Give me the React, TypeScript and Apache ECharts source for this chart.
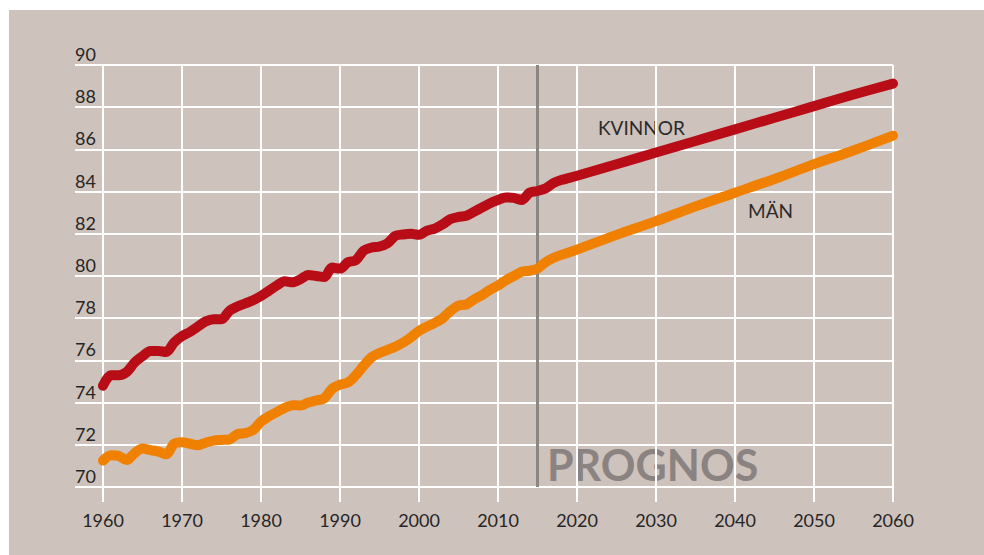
import React, { useEffect, useRef } from "react";
import * as echarts from "echarts";

const years = [
  1960, 1961, 1962, 1963, 1964, 1965, 1966, 1967, 1968, 1969,
  1970, 1971, 1972, 1973, 1974, 1975, 1976, 1977, 1978, 1979,
  1980, 1981, 1982, 1983, 1984, 1985, 1986, 1987, 1988, 1989,
  1990, 1991, 1992, 1993, 1994, 1995, 1996, 1997, 1998, 1999,
  2000, 2001, 2002, 2003, 2004, 2005, 2006, 2007, 2008, 2009,
  2010, 2011, 2012, 2013, 2014, 2015, 2016, 2017, 2018,
  2020, 2025, 2030, 2035, 2040, 2045, 2050, 2055, 2060,
];

const kvinnor = [
  74.8, 75.3, 75.3, 75.45, 75.9, 76.2, 76.45, 76.45, 76.4, 76.85,
  77.15, 77.35, 77.6, 77.85, 77.95, 77.95, 78.35, 78.55, 78.7, 78.85,
  79.05, 79.3, 79.55, 79.75, 79.7, 79.85, 80.05, 80.0, 79.95, 80.4,
  80.35, 80.65, 80.75, 81.2, 81.35, 81.4, 81.55, 81.9, 81.97, 82.0,
  81.95, 82.15, 82.25, 82.45, 82.7, 82.8, 82.85, 83.05, 83.25, 83.45,
  83.6, 83.72, 83.7, 83.6, 83.95, 84.03, 84.15, 84.4, 84.55,
  84.75, 85.3, 85.85, 86.4, 86.95, 87.5, 88.05, 88.6, 89.12,
];

const man = [
  71.25, 71.5, 71.47, 71.28, 71.6, 71.82, 71.75, 71.68, 71.55, 72.05,
  72.12, 72.05, 71.98, 72.1, 72.2, 72.23, 72.25, 72.5, 72.55, 72.7,
  73.1, 73.35, 73.55, 73.75, 73.88, 73.86, 74.0, 74.1, 74.2, 74.65,
  74.85, 74.95, 75.3, 75.75, 76.15, 76.35, 76.5, 76.65, 76.85, 77.1,
  77.4, 77.6, 77.78, 78.0, 78.35, 78.6, 78.65, 78.9, 79.1, 79.35,
  79.55, 79.8, 80.0, 80.2, 80.25, 80.35, 80.65, 80.85, 81.0,
  81.25, 81.95, 82.6, 83.3, 83.95, 84.6, 85.3, 85.95, 86.65,
];

const prognosYear = 2015;
const yTicks = { min: 70, max: 90, interval: 2 };
const xTicks = { min: 1960, max: 2060, interval: 10 };

const FONT = "Lato, 'Open Sans', sans-serif";

export default function App() {
  const ref = useRef<HTMLDivElement>(null);

  useEffect(() => {
    if (!ref.current) return;
    const chart = echarts.init(ref.current, undefined, { renderer: "svg" });
    const pairs = (vals: number[]) => years.map((y, i) => [y, vals[i]]);

    chart.setOption({
      animation: false,
      backgroundColor: "#cec2bc",
      textStyle: { fontFamily: FONT },
      grid: { left: 94, right: 91, top: 55, bottom: 68, containLabel: false },
      xAxis: {
        type: "value",
        min: xTicks.min,
        max: xTicks.max,
        interval: xTicks.interval,
        axisLine: { show: false },
        axisTick: { show: true, length: 15, lineStyle: { color: "#ffffff", width: 2 } },
        splitLine: { show: true, lineStyle: { color: "#ffffff", width: 2 } },
        axisLabel: { color: "#262626", fontSize: 18, fontFamily: FONT, margin: 24, formatter: (v: number) => String(v) },
      },
      yAxis: {
        type: "value",
        min: yTicks.min,
        max: yTicks.max,
        interval: yTicks.interval,
        axisLine: { show: false },
        axisTick: { show: true, length: 28, lineStyle: { color: "#ffffff", width: 2 } },
        splitLine: { show: true, lineStyle: { color: "#ffffff", width: 2 } },
        axisLabel: {
          color: "#262626",
          fontSize: 18,
          fontFamily: FONT,
          align: "left",
          verticalAlign: "bottom",
          margin: 28,
          padding: [0, 0, 2, 0],
        },
      },
      series: [
        {
          name: "MÄN",
          type: "line",
          data: pairs(man),
          showSymbol: false,
          smooth: 0.3,
          lineStyle: { color: "#f08000", width: 10, cap: "round", join: "round" },
          z: 3,
          markLine: {
            silent: true,
            symbol: "none",
            label: { show: false },
            lineStyle: { color: "#8a8684", width: 3, type: "solid" },
            data: [{ xAxis: prognosYear }],
            z: 2,
          },
        },
        {
          name: "KVINNOR",
          type: "line",
          data: pairs(kvinnor),
          showSymbol: false,
          smooth: 0.3,
          lineStyle: { color: "#b80d16", width: 10, cap: "round", join: "round" },
          z: 4,
        },
      ],
      graphic: [
        {
          type: "text",
          left: 589,
          top: 108,
          style: { text: "KVINNOR", fill: "#2b2b2b", font: `19px ${FONT}` },
        },
        {
          type: "text",
          left: 739,
          top: 191,
          style: { text: "MÄN", fill: "#2b2b2b", font: `19px ${FONT}` },
        },
        {
          type: "text",
          left: 538,
          top: 433,
          style: { text: "PROGNOS", fill: "#8a8381", font: `bold 43px ${FONT}` },
        },
      ],
    });
    return () => chart.dispose();
  }, []);

  return (
    <div
      ref={ref}
      style={{ position: "absolute", left: 9, top: 10, width: 975, height: 545 }}
    />
  );
}
